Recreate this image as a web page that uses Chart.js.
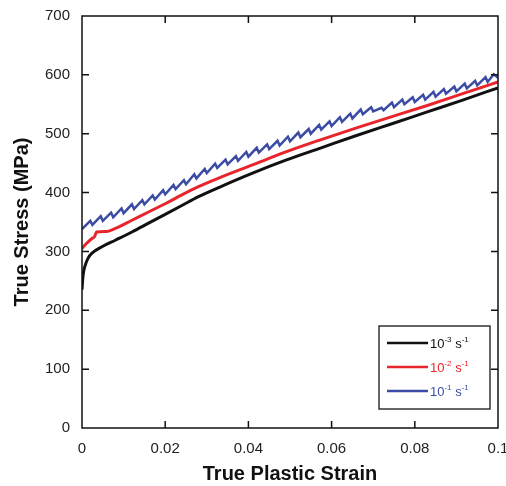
<!DOCTYPE html>
<html>
<head>
<meta charset="utf-8">
<script src="https://cdn.jsdelivr.net/npm/chart.js@4/dist/chart.umd.min.js"></script>
<style>
  html, body { margin: 0; padding: 0; background: #fff; }
  #wrap { width: 506px; height: 486px; }
</style>
</head>
<body>
<div id="wrap"><canvas id="stressChart"></canvas></div>
<script>
// strain rate 10^-3 s^-1
const strainBlack = [0, 0.0002, 0.0004, 0.0008, 0.0015, 0.0024, 0.0048, 0.008, 0.012, 0.016, 0.02, 0.024, 0.028, 0.033, 0.041, 0.049, 0.0575, 0.066, 0.0745, 0.083, 0.0915, 0.1];
const stressBlack = [235, 255, 266, 277, 289, 297, 308, 319, 333, 348, 363, 378, 393, 409, 433, 455, 476, 497, 517, 537, 557, 578];

// strain rate 10^-2 s^-1
const strainRed = [0, 0.001, 0.0024, 0.003, 0.0035, 0.006, 0.008, 0.012, 0.016, 0.02, 0.024, 0.028, 0.033, 0.041, 0.049, 0.0575, 0.066, 0.0745, 0.083, 0.0915, 0.1];
const stressRed = [305, 313, 322, 325, 333, 334, 339, 353, 367, 381, 396, 410, 425, 447, 469, 490, 510, 529, 548, 568, 588];

// strain rate 10^-1 s^-1 (serrated)
const strainBlue = [0, 0.002, 0.0025, 0.0045, 0.005, 0.007, 0.0075, 0.0095, 0.01, 0.012,
  0.0125, 0.0145, 0.015, 0.017, 0.0175, 0.0195, 0.02, 0.022, 0.0225, 0.0245,
  0.025, 0.027, 0.0275, 0.0295, 0.03, 0.032, 0.0325, 0.0345, 0.035, 0.037,
  0.0375, 0.0395, 0.04, 0.042, 0.0425, 0.0445, 0.045, 0.047, 0.0475, 0.0495,
  0.05, 0.052, 0.0525, 0.0545, 0.055, 0.057, 0.0575, 0.0595, 0.06, 0.062,
  0.0625, 0.0645, 0.065, 0.067, 0.0675, 0.0695, 0.07, 0.072, 0.0725, 0.0745,
  0.075, 0.077, 0.0775, 0.0795, 0.08, 0.082, 0.0825, 0.0845, 0.085, 0.087,
  0.0875, 0.0895, 0.09, 0.092, 0.0925, 0.0945, 0.095, 0.097, 0.0975, 0.099, 0.1];
const stressBlue = [338, 352, 345, 360, 352, 366, 358, 373, 365, 380,
  372, 387, 380, 395, 388, 404, 397, 413, 406, 421,
  414, 431, 424, 440, 433, 449, 442, 456, 448, 462,
  454, 469, 461, 476, 468, 482, 474, 488, 480, 495,
  487, 502, 494, 508, 500, 515, 507, 521, 513, 528,
  520, 534, 526, 541, 533, 545, 538, 544, 540, 553,
  545, 558, 550, 562, 554, 566, 558, 571, 563, 576,
  568, 580, 572, 585, 577, 590, 582, 596, 588, 601, 595];

const seriesExponents = ['-3', '-2', '-1'];
const seriesColors = ['#111111', '#e8252b', '#3c4ca4'];
const xTickValues = [0, 0.02, 0.04, 0.06, 0.08, 0.1];
const yTickValues = [0, 100, 200, 300, 400, 500, 600, 700];

function toPoints(xs, ys) {
  return xs.map((x, i) => ({ x: x, y: ys[i] }));
}

// box, inward ticks and the legend
const framePlugin = {
  id: 'framePlugin',
  afterDraw(chart) {
    const ctx = chart.ctx;
    const a = chart.chartArea;
    const xs = chart.scales.x;
    const ys = chart.scales.y;
    const tick = 7;
    ctx.save();
    ctx.strokeStyle = '#111';
    ctx.lineWidth = 1.5;
    ctx.strokeRect(a.left, a.top, a.right - a.left, a.bottom - a.top);
    ctx.beginPath();
    xTickValues.slice(1, -1).forEach(v => {
      const px = xs.getPixelForValue(v);
      ctx.moveTo(px, a.bottom); ctx.lineTo(px, a.bottom - tick);
      ctx.moveTo(px, a.top); ctx.lineTo(px, a.top + tick);
    });
    yTickValues.slice(1, -1).forEach(v => {
      const py = ys.getPixelForValue(v);
      ctx.moveTo(a.left, py); ctx.lineTo(a.left + tick, py);
      ctx.moveTo(a.right, py); ctx.lineTo(a.right - tick, py);
    });
    ctx.stroke();

    // legend
    const bx = a.right - 119, by = a.bottom - 102;
    ctx.lineWidth = 1.5;
    ctx.strokeStyle = '#333';
    ctx.strokeRect(bx, by, 111, 83);
    seriesExponents.forEach((ex, i) => {
      const ry = by + 17 + i * 24;
      ctx.strokeStyle = seriesColors[i];
      ctx.lineWidth = 2.5;
      ctx.beginPath();
      ctx.moveTo(bx + 8, ry); ctx.lineTo(bx + 49, ry);
      ctx.stroke();
      ctx.fillStyle = seriesColors[i];
      ctx.textBaseline = 'alphabetic';
      ctx.textAlign = 'left';
      let tx = bx + 51;
      ctx.font = '13px "Liberation Sans", Arial, sans-serif';
      ctx.fillText('10', tx, ry + 5); tx += ctx.measureText('10').width;
      ctx.font = '8px "Liberation Sans", Arial, sans-serif';
      ctx.fillText(ex, tx, ry - 1); tx += ctx.measureText(ex).width;
      ctx.font = '13px "Liberation Sans", Arial, sans-serif';
      ctx.fillText(' s', tx, ry + 5); tx += ctx.measureText(' s').width;
      ctx.font = '8px "Liberation Sans", Arial, sans-serif';
      ctx.fillText('-1', tx, ry - 1);
    });
    ctx.restore();
  }
};

const tickFont = { family: '"Liberation Sans", Arial, sans-serif', size: 15 };
const titleFont = { family: '"Liberation Sans", Arial, sans-serif', size: 20, weight: 'bold' };

new Chart(document.getElementById('stressChart').getContext('2d'), {
  type: 'line',
  data: {
    datasets: [
      { label: '10-3 s-1', data: toPoints(strainBlack, stressBlack), borderColor: seriesColors[0], borderWidth: 3, pointRadius: 0, cubicInterpolationMode: 'monotone' },
      { label: '10-2 s-1', data: toPoints(strainRed, stressRed), borderColor: seriesColors[1], borderWidth: 3, pointRadius: 0, cubicInterpolationMode: 'monotone' },
      { label: '10-1 s-1', data: toPoints(strainBlue, stressBlue), borderColor: seriesColors[2], borderWidth: 2.5, pointRadius: 0, tension: 0 }
    ]
  },
  options: {
    responsive: true,
    maintainAspectRatio: false,
    animation: false,
    layout: { padding: { top: 16, right: 8, left: 0, bottom: 0 } },
    plugins: { legend: { display: false }, tooltip: { enabled: false } },
    scales: {
      x: {
        type: 'linear', min: 0, max: 0.1,
        afterFit: s => { s.height = 58; s.paddingLeft = 0; s.paddingRight = 0; },
        afterBuildTicks: s => { s.ticks = xTickValues.map(v => ({ value: v })); },
        grid: { display: false, drawTicks: false },
        border: { display: false },
        ticks: { font: tickFont, color: '#222', padding: 12, maxRotation: 0, callback: v => String(v) },
        title: { display: true, text: 'True Plastic Strain', font: titleFont, color: '#111', padding: { top: 0, bottom: 0 } }
      },
      y: {
        type: 'linear', min: 0, max: 700,
        afterFit: s => { s.width = 82; s.paddingTop = 0; s.paddingBottom = 0; },
        afterBuildTicks: s => { s.ticks = yTickValues.map(v => ({ value: v })); },
        grid: { display: false, drawTicks: false },
        border: { display: false },
        ticks: { font: tickFont, color: '#222', padding: 12, callback: v => String(v) },
        title: { display: true, text: 'True Stress (MPa)', font: titleFont, color: '#111', padding: { top: 10, bottom: 0 } }
      }
    }
  },
  plugins: [framePlugin]
});
</script>
</body>
</html>
